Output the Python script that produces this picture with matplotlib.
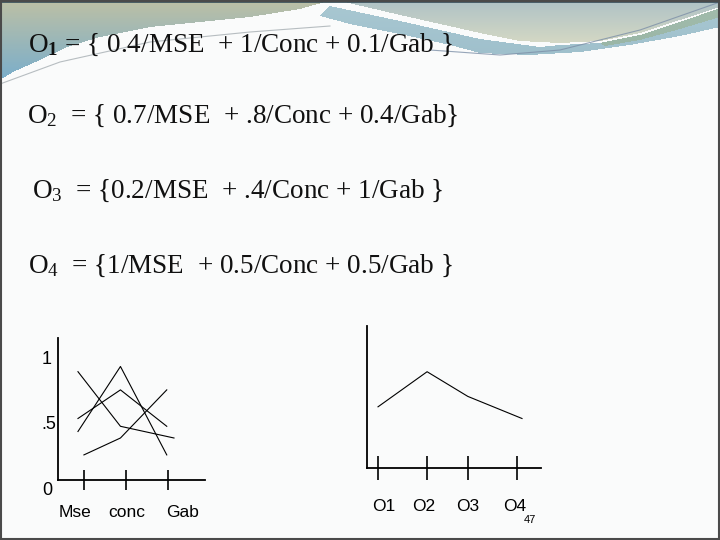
import numpy as np
import matplotlib
matplotlib.use("Agg")
import matplotlib.pyplot as plt
from matplotlib.patches import Rectangle
from matplotlib.path import Path
from matplotlib.colors import to_rgb
import matplotlib.transforms as mtransforms

plt.rcParams['font.family'] = ['Liberation Serif', 'DejaVu Serif']
plt.rcParams['mathtext.fontset'] = 'custom'
plt.rcParams['mathtext.rm'] = 'Liberation Serif'
plt.rcParams['mathtext.it'] = 'Liberation Serif:italic'
plt.rcParams['mathtext.bf'] = 'Liberation Serif:bold'

# --- slide text ---
formula_lines = [
    r"O$_\mathbf{1}$ = { 0.4/MSE  + 1/Conc + 0.1/Gab }",
    "O$_2$  = { 0.7/MSE  + .8/Conc + 0.4/Gab}",
    "O$_3$  = {0.2/MSE  + .4/Conc + 1/Gab }",
    "O$_4$  = {1/MSE  + 0.5/Conc + 0.5/Gab }",
]

# --- left chart: membership of each option per criterion ---
criteria = ["Mse", "conc", "Gab"]
o1_x = [0, 1, 2.09]
o1_vals = [0.45, 0.95, 0.27]
o2_x = [0, 1, 2.09]
o2_vals = [0.55, 0.77, 0.49]
o3_x = [0.14, 1, 2.09]
o3_vals = [0.27, 0.40, 0.77]
o4_x = [0, 1, 2.26]
o4_vals = [0.91, 0.49, 0.40]
crit_ticks = [0.14, 1.13, 2.12]
crit_label_x = [-0.07, 1.15, 2.47]
y_labels = ["1", ".5", "0"]
y_label_vals = [1, 0.5, 0]

# --- right chart: aggregated score per option ---
options = ["O1", "O2", "O3", "O4"]
opt_x = [0, 1.06, 1.94, 3.11]
opt_vals = [0.64, 0.91, 0.72, 0.55]
opt_ticks = [0, 1.06, 1.94, 3.0]
opt_label_x = [0.13, 0.99, 1.94, 2.96]

W, H = 720, 540
BODY = '#fafbfb'
fig = plt.figure(figsize=(7.2, 5.4), dpi=100, facecolor=BODY)

# background decoration (slide template wave), painted as a small raster
bg = fig.add_axes([0, 0, 1, 1], zorder=-1)
bg.axis('off')

band_h = 90
yy, xx = np.mgrid[0:band_h, 0:W] + 0.5
pts = np.column_stack([xx.ravel(), yy.ravel()])
img = np.ones((band_h, W, 3)) * np.array(to_rgb(BODY))

def paint(poly, c_top, c_bot, y0, y1):
    mask = Path(poly).contains_points(pts).reshape(band_h, W)
    t = np.clip((yy - y0) / (y1 - y0), 0, 1)[..., None]
    col = (1 - t) * np.array(to_rgb(c_top)) + t * np.array(to_rgb(c_bot))
    img[mask] = col[mask]

left_wave = [(0, 0), (332, 0), (300, 9), (250, 17), (200, 22), (150, 27),
             (100, 37), (67, 47), (40, 60), (13, 72), (0, 80)]
paint(left_wave, '#bdc0a5', '#7aaecb', 0, 80)

upper_right = [(336, 0), (720, 0), (720, 7), (680, 20), (640, 33), (600, 41),
               (560, 43), (520, 41), (480, 33), (400, 15)]
paint(upper_right, '#aec2c6', '#d6d9c4', 0, 45)

blue_band = [(330, 6), (400, 21), (480, 39), (540, 47), (560, 45), (600, 43),
             (640, 35), (680, 22), (720, 8), (720, 27), (680, 36), (630, 45),
             (580, 52), (530, 55), (480, 53), (450, 45), (400, 34), (350, 24),
             (320, 16)]
paint(blue_band, '#a9c8d2', '#9fc0cc', 0, 55)

green_stripe = [(600, 43), (640, 35), (680, 22), (720, 8), (720, 17), (680, 29),
                (640, 40), (605, 46)]
paint(green_stripe, '#a3bdad', '#9ab6a6', 0, 46)

bg.imshow(img, extent=(0, W, band_h, 0), aspect='auto', interpolation='bilinear', zorder=0)
bg.plot([0, 60, 150, 250, 330], [84, 62, 42, 32, 26], color='#9aa3a8', lw=0.8, alpha=0.7, zorder=2)
bg.plot([430, 500, 560, 640, 720], [50, 55, 50, 30, 2], color='#7d90a8', lw=0.8, alpha=0.8, zorder=2)
bg.plot([0, W], [0.5, 0.5], color='#3f5560', lw=2, zorder=2)
bg.add_patch(Rectangle((1, 1), W - 2, H - 2, facecolor='none', edgecolor='#4a4a4a', lw=1.5, zorder=2))
bg.set_xlim(0, W)
bg.set_ylim(H, 0)

# formula lines
formula_x = [28, 27, 32, 28]
formula_y = [52, 123, 198, 273]
for txt, fx, fy in zip(formula_lines, formula_x, formula_y):
    fig.text(fx / W, 1 - fy / H, txt, fontsize=19.5, color='#111111',
             ha='left', va='baseline')

def px_axes(l, r, t, b):
    return fig.add_axes([l / W, 1 - b / H, (r - l) / W, (b - t) / H])

sans = ['Liberation Sans', 'DejaVu Sans']

# left chart
ax1 = px_axes(58, 205, 338, 480)
ax1.patch.set_alpha(0)
for xs, vals in [(o1_x, o1_vals), (o2_x, o2_vals), (o3_x, o3_vals), (o4_x, o4_vals)]:
    ax1.plot(xs, vals, color='black', lw=0.8)
ax1.set_xlim(-0.47, 2.99)
ax1.set_ylim(0.077, 1.169)
for s in ['top', 'right']:
    ax1.spines[s].set_visible(False)
for s in ['left', 'bottom']:
    ax1.spines[s].set_linewidth(1.3)
ax1.set_xticks(crit_ticks)
ax1.set_xticklabels([])
ax1.set_yticks([])
ax1.tick_params(axis='x', direction='inout', length=14.5, width=1.2)
for lbl, lx in zip(criteria, crit_label_x):
    ax1.text(lx, -0.17, lbl, fontsize=12.5, family=sans, ha='center', va='center', clip_on=False)
trans1 = mtransforms.blended_transform_factory(ax1.transAxes, ax1.transData)
for lbl, v in zip(y_labels, y_label_vals):
    ax1.text(-0.11, v, lbl, fontsize=13, family=sans, ha='left', va='center',
             transform=trans1, clip_on=False)

# right chart
ax2 = px_axes(367, 541, 326, 468)
ax2.patch.set_alpha(0)
ax2.plot(opt_x, opt_vals, color='black', lw=0.8)
ax2.set_xlim(-0.238, 3.52)
ax2.set_ylim(0.169, 1.262)
for s in ['top', 'right']:
    ax2.spines[s].set_visible(False)
for s in ['left', 'bottom']:
    ax2.spines[s].set_linewidth(1.3)
ax2.set_xticks(opt_ticks)
ax2.set_xticklabels([])
ax2.set_yticks([])
ax2.tick_params(axis='x', direction='inout', length=17, width=1.2)
for lbl, lx in zip(options, opt_label_x):
    ax2.text(lx, -0.13, lbl, fontsize=12.5, family=sans, ha='center', va='center', clip_on=False)

fig.text(530 / W, 1 - 520 / H, "47", fontsize=8, family=sans, ha='center', va='center')

fig.savefig("out.png", dpi=100, facecolor=fig.get_facecolor())
